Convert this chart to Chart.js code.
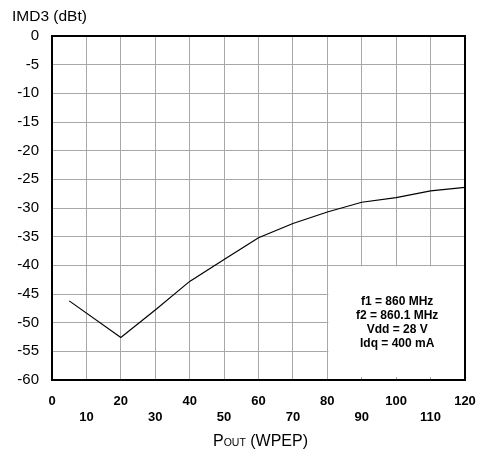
<!DOCTYPE html>
<html>
<head>
<meta charset="utf-8">
<script src="https://cdn.jsdelivr.net/npm/chart.js@4.4.1/dist/chart.umd.min.js"></script>
<style>
  html, body { margin: 0; padding: 0; background: #fff; }
  #wrap { width: 481px; height: 453px; }
</style>
</head>
<body>
<div id="wrap"><canvas id="imdChart" width="481" height="453"></canvas></div>
<script>
// data
var poutW = [5, 20, 30, 40, 50, 60, 70, 80, 90, 100, 110, 120];
var imd3 = [-46.2, -52.6, -47.8, -42.8, -39.0, -35.2, -32.7, -30.7, -29.0, -28.2, -27.0, -26.4];
var xTicks = [0, 10, 20, 30, 40, 50, 60, 70, 80, 90, 100, 110, 120];
var yTicks = [0, -5, -10, -15, -20, -25, -30, -35, -40, -45, -50, -55, -60];
var yTitle = 'IMD3 (dBt)';
var noteLines = ['f1 = 860 MHz', 'f2 = 860.1 MHz', 'Vdd = 28 V', 'Idq = 400 mA'];

var FONT = "'Liberation Sans', Arial, sans-serif";

var decor = {
  id: 'decor',
  afterDatasetsDraw: function (chart) {
    var c = chart.ctx, a = chart.chartArea;
    var xs = chart.scales.x, ys = chart.scales.y;
    c.save();
    // white note box over the grid
    var bx = xs.getPixelForValue(80) + 1, by = ys.getPixelForValue(-40) + 1;
    var bw = a.right - bx - 1, bh = a.bottom - by - 3;
    c.fillStyle = '#fff';
    c.fillRect(bx, by, bw, bh);
    c.fillStyle = '#000';
    c.font = 'bold 12px ' + FONT;
    c.textAlign = 'center';
    c.textBaseline = 'middle';
    var cx = bx + bw / 2 + 1, cy = (ys.getPixelForValue(-40) + a.bottom) / 2;
    noteLines.forEach(function (t, i) {
      c.fillText(t, cx, cy + (i - (noteLines.length - 1) / 2) * 14);
    });
    // frame
    c.strokeStyle = '#000';
    c.lineWidth = 2;
    c.strokeRect(a.left, a.top, a.right - a.left, a.bottom - a.top);
    // y title
    c.textAlign = 'left';
    c.font = '15.5px ' + FONT;
    c.fillText(yTitle, 12, 17);
    // x title: P with small-caps OUT
    var big = '16px ' + FONT, small = '10.5px ' + FONT;
    c.font = big; var w1 = c.measureText('P').width, w3 = c.measureText(' (WPEP)').width;
    c.font = small; var w2 = c.measureText('OUT').width;
    var x0 = (a.left + a.right) / 2 - (w1 + w2 + w3) / 2 + 2;
    var ty = 440;
    c.textBaseline = 'alphabetic';
    c.font = big; c.fillText('P', x0, ty + 6);
    c.font = small; c.fillText('OUT', x0 + w1, ty + 6);
    c.font = big; c.fillText(' (WPEP)', x0 + w1 + w2, ty + 6);
    c.restore();
  }
};

new Chart(document.getElementById('imdChart'), {
  type: 'line',
  data: {
    datasets: [{
      data: poutW.map(function (x, i) { return { x: x, y: imd3[i] }; }),
      borderColor: '#000',
      borderWidth: 1.2,
      pointRadius: 0,
      tension: 0,
      fill: false
    }]
  },
  options: {
    responsive: false,
    animation: false,
    layout: { padding: { top: 36, right: 16, bottom: 0, left: 0 } },
    plugins: { legend: { display: false }, tooltip: { enabled: false } },
    scales: {
      x: {
        type: 'linear',
        min: 0, max: 120,
        afterBuildTicks: function (s) { s.ticks = xTicks.map(function (v) { return { value: v }; }); },
        afterFit: function (s) { s.height = 73; s.paddingLeft = 0; s.paddingRight = 0; },
        grid: { color: '#a8a8a8', lineWidth: 1, drawTicks: false },
        border: { display: false },
        ticks: {
          padding: 13,
          color: '#000',
          maxRotation: 0,
          autoSkip: false,
          font: { family: FONT, size: 13, weight: 'bold', lineHeight: 1.23 },
          callback: function (v) { return (v / 10) % 2 === 0 ? [String(v), ''] : ['', String(v)]; }
        }
      },
      y: {
        min: -60, max: 0,
        afterBuildTicks: function (s) { s.ticks = yTicks.map(function (v) { return { value: v }; }); },
        afterFit: function (s) { s.width = 52; s.paddingTop = 0; s.paddingBottom = 0; },
        grid: { color: '#a8a8a8', lineWidth: 1, drawTicks: false },
        border: { display: false },
        ticks: {
          padding: 13,
          color: '#000',
          font: { family: FONT, size: 15 }
        }
      }
    }
  },
  plugins: [decor]
});
</script>
</body>
</html>
